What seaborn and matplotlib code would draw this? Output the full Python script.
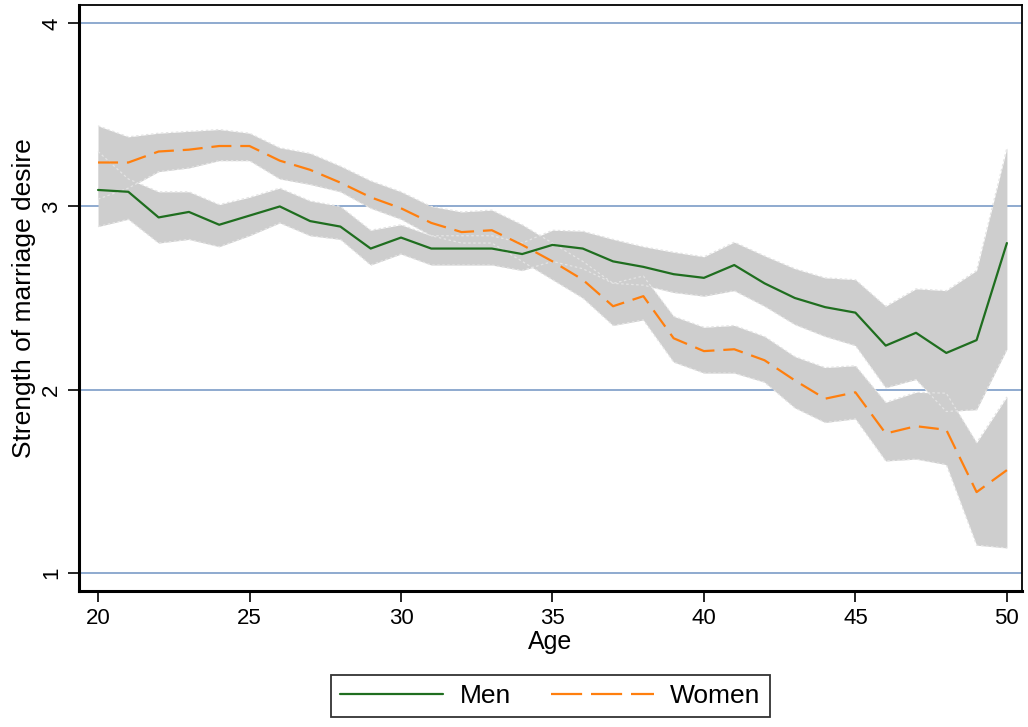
import numpy as np
import pandas as pd
import matplotlib
matplotlib.use("Agg")
import matplotlib.pyplot as plt
import seaborn as sns

# values
ages = list(range(20, 51))

men_mean = [3.09, 3.08, 2.94, 2.97, 2.90, 2.95, 3.00, 2.92, 2.89, 2.77, 2.83,
            2.77, 2.77, 2.77, 2.74, 2.79, 2.77, 2.70, 2.67, 2.63, 2.61,
            2.68, 2.58, 2.50, 2.45, 2.42, 2.24, 2.31, 2.20, 2.27, 2.80]
men_upper = [3.30, 3.15, 3.08, 3.08, 3.01, 3.05, 3.10, 3.03, 3.00, 2.87, 2.90,
             2.84, 2.84, 2.84, 2.80, 2.87, 2.865, 2.82, 2.78, 2.75, 2.725,
             2.805, 2.73, 2.66, 2.61, 2.60, 2.455, 2.55, 2.54, 2.65, 3.32]
men_lower = [2.89, 2.93, 2.80, 2.82, 2.78, 2.84, 2.91, 2.84, 2.82, 2.68, 2.74,
             2.68, 2.68, 2.68, 2.65, 2.70, 2.66, 2.58, 2.57, 2.53, 2.51,
             2.54, 2.455, 2.355, 2.29, 2.24, 2.01, 2.055, 1.88, 1.89, 2.22]

women_mean = [3.24, 3.24, 3.30, 3.31, 3.33, 3.33, 3.25, 3.20, 3.13, 3.05, 2.99,
              2.91, 2.86, 2.87, 2.79, 2.70, 2.60, 2.455, 2.51, 2.28, 2.21,
              2.22, 2.16, 2.05, 1.95, 1.985, 1.76, 1.80, 1.78, 1.44, 1.56]
women_upper = [3.44, 3.38, 3.40, 3.41, 3.42, 3.40, 3.32, 3.29, 3.22, 3.14, 3.08,
               3.00, 2.97, 2.98, 2.90, 2.80, 2.70, 2.58, 2.62, 2.40, 2.34,
               2.35, 2.29, 2.18, 2.12, 2.13, 1.93, 1.985, 1.98, 1.71, 1.96]
women_lower = [3.04, 3.10, 3.19, 3.21, 3.25, 3.25, 3.15, 3.12, 3.08, 2.99, 2.93,
               2.84, 2.80, 2.80, 2.70, 2.60, 2.50, 2.35, 2.38, 2.15, 2.09,
               2.09, 2.04, 1.90, 1.82, 1.84, 1.61, 1.62, 1.59, 1.15, 1.135]

df = pd.DataFrame({
    "Age": ages * 2,
    "desire": men_mean + women_mean,
    "sex": ["Men"] * len(ages) + ["Women"] * len(ages),
})

sns.set_style("white")
plt.rcParams["font.family"] = ["Liberation Sans", "DejaVu Sans"]
for key in ["text.color", "axes.labelcolor", "xtick.color", "ytick.color"]:
    plt.rcParams[key] = "black"

fig = plt.figure(figsize=(10.28, 7.27), dpi=100)
ax = fig.add_axes([0.0768, 0.1871, 0.9174, 0.806])

# grid lines (behind the bands)
for yv in [1, 2, 3, 4]:
    ax.axhline(yv, color="#7093c2", lw=1.1, zorder=0)

# confidence bands
band = "#cecece"
edge = "#e4e4e4"
ax.fill_between(ages, men_lower, men_upper, color=band, lw=0, zorder=1)
ax.fill_between(ages, women_lower, women_upper, color=band, lw=0, zorder=1)
for arr in [men_lower, men_upper, women_lower, women_upper]:
    ax.plot(ages, arr, color=edge, lw=0.9, ls=(0, (2, 2)), zorder=2)

sns.lineplot(data=df, x="Age", y="desire", hue="sex", style="sex",
             palette={"Men": "#1f6e1f", "Women": "#ff7f0e"},
             dashes={"Men": "", "Women": (9, 4)},
             lw=1.6, ax=ax, zorder=3)

ax.set_xlim(19.37, 50.5)
ax.set_ylim(0.9, 4.1)
ax.set_xticks([20, 25, 30, 35, 40, 45, 50])
ax.set_yticks([1, 2, 3, 4])
ax.tick_params(axis="x", labelsize=16, length=8, width=1.2, direction="out", pad=4, bottom=True)
ax.tick_params(axis="y", labelsize=16, length=8, width=1.2, direction="out", pad=4, left=True)
for lab in ax.get_yticklabels():
    lab.set_rotation(90)
    lab.set_va("center")

ax.set_xlabel("Age", fontsize=18, labelpad=1)
ax.set_ylabel("Strength of marriage desire", fontsize=19, labelpad=4)

for side in ["left", "bottom"]:
    ax.spines[side].set_linewidth(2.2)
    ax.spines[side].set_color("black")
for side in ["top", "right"]:
    ax.spines[side].set_linewidth(1.3)
    ax.spines[side].set_color("black")

handles, labels = ax.get_legend_handles_labels()
leg = ax.legend(handles, labels, loc="upper center", bbox_to_anchor=(0.5, -0.143),
                borderaxespad=0, ncol=2, fontsize=19, frameon=True, fancybox=False,
                edgecolor="black", handlelength=3.9, columnspacing=1.5,
                borderpad=0.35, handletextpad=0.63)
leg.get_frame().set_linewidth(1.3)
leg.get_lines()[1].set_dashes([14, 4])

fig.savefig("out.png", dpi=100)
